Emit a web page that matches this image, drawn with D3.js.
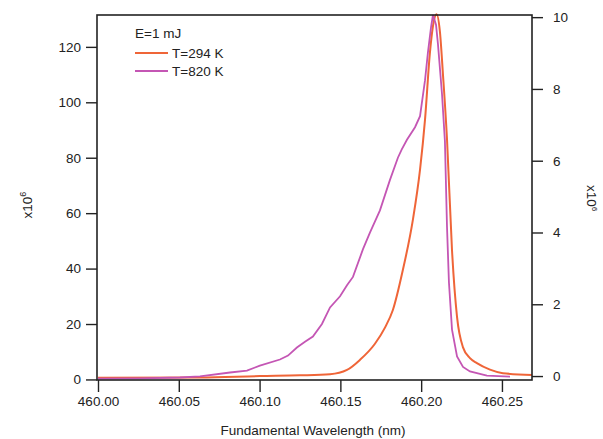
<!DOCTYPE html>
<html>
<head>
<meta charset="utf-8">
<script src="https://cdn.jsdelivr.net/npm/d3@7"></script>
<style>
    body { margin: 0; background: #fff; }
    text { font-family: "Liberation Sans", Arial, sans-serif; fill: #222; }
</style>
</head>
<body>
<svg id="chart" width="603" height="439"></svg>
<script>
// - - - - - - - - - -
// data
// - - - - - - - - - -
const hotWl = [460.0000, 460.0260, 460.0507, 460.0631, 460.0817, 460.0922, 460.1002, 460.1126,
    460.1176, 460.1231, 460.1281, 460.1330, 460.1386, 460.1436, 460.1498, 460.1541, 460.1578,
    460.1640, 460.1683, 460.1745, 460.1807, 460.1856, 460.1880, 460.1912, 460.1962, 460.1993,
    460.2024, 460.2042, 460.2061, 460.2073, 460.2092, 460.2104, 460.2129, 460.2147, 460.2160,
    460.2172, 460.2191, 460.2222, 460.2259, 460.2302, 460.2407, 460.2550];
const hotVal = [0.3, 0.4, 0.7, 1.1, 2.5, 3.2, 5.0, 7.2,
    8.6, 11.5, 13.6, 15.5, 20, 26, 30, 34, 37,
    47, 53, 61, 72, 80, 83, 86.5, 91, 95,
    108, 118, 127, 131.5, 128, 121, 103, 86, 55,
    35, 18, 8.3, 4.5, 2.9, 1.4, 1.0];

const coldWl = [460.0000, 460.0631, 460.1002, 460.1250, 460.1436, 460.1541, 460.1621, 460.1714,
    460.1776, 460.1825, 460.1887, 460.1949, 460.1993, 460.2024, 460.2054, 460.2079, 460.2095,
    460.2116, 460.2135, 460.2160, 460.2191, 460.2222, 460.2259, 460.2302, 460.2345, 460.2426,
    460.2506, 460.2686];
const coldVal = [-0.05, -0.04, 0.0, 0.02, 0.05, 0.17, 0.45, 0.9,
    1.35, 1.84, 2.96, 4.36, 5.75, 7.15, 9.0, 9.9, 10.08,
    9.6, 8.4, 6.6, 3.5, 1.65, 0.8, 0.5, 0.36, 0.18,
    0.08, 0.03];

const xTicks = [460.00, 460.05, 460.10, 460.15, 460.20, 460.25];
const leftTicks = [0, 20, 40, 60, 80, 100, 120];
const rightTicks = [0, 2, 4, 6, 8, 10];

const legendLabels = ['T=294 K', 'T=820 K'];
const colors = ['#ef6538', '#c456b4'];

// - - - - - - - - - -
const svg = d3.select('#chart');
const L = 97, R = 532, T = 15, B = 380;

const x = d3.scaleLinear().domain([460, 460.2686]).range([L + 1, R]);
const yLeft = d3.scaleLinear().domain([-0.2, 131.5]).range([B, T]);
const yRight = d3.scaleLinear().domain([-0.11, 10.06]).range([B, T]);

const fmt2 = d3.format('.2f');

// axes
const gx = svg.append('g').attr('transform', `translate(0,${B})`)
    .call(d3.axisBottom(x).tickValues(xTicks).tickFormat(fmt2).tickSize(12).tickPadding(4));
const gl = svg.append('g').attr('transform', `translate(${L},0)`)
    .call(d3.axisLeft(yLeft).tickValues(leftTicks).tickSize(11).tickPadding(5));
const gr = svg.append('g').attr('transform', `translate(${R},0)`)
    .call(d3.axisRight(yRight).tickValues(rightTicks).tickSize(11).tickPadding(10));

[gx, gl, gr].forEach(g => {
    g.select('.domain').remove();
    g.selectAll('line').attr('stroke', '#222').attr('stroke-width', 1.4);
    g.selectAll('text').attr('font-size', 13.5).attr('fill', '#222');
});

// lines
const lineHot = d3.line()
    .x((d, i) => x(hotWl[i]))
    .y(d => yLeft(d));
const lineCold = d3.line()
    .x((d, i) => x(coldWl[i]))
    .y(d => yRight(d))
    .curve(d3.curveMonotoneX);

svg.append('path').datum(coldVal)
    .attr('d', lineCold)
    .attr('fill', 'none').attr('stroke', colors[0]).attr('stroke-width', 2);
svg.append('path').datum(hotVal)
    .attr('d', lineHot)
    .attr('fill', 'none').attr('stroke', colors[1]).attr('stroke-width', 1.8);

// frame
svg.append('rect')
    .attr('x', L).attr('y', T).attr('width', R - L).attr('height', B - T)
    .attr('fill', 'none').attr('stroke', '#222').attr('stroke-width', 1.6);

// legend
svg.append('text').attr('x', 135).attr('y', 38).attr('font-size', 13.5).text('E=1 mJ');
legendLabels.forEach((lab, i) => {
    const yy = 53 + i * 18;
    svg.append('line').attr('x1', 135).attr('x2', 168).attr('y1', yy).attr('y2', yy)
        .attr('stroke', colors[i]).attr('stroke-width', 2);
    svg.append('text').attr('x', 172).attr('y', yy + 5).attr('font-size', 13.5).text(lab);
});

// axis titles
svg.append('text').attr('x', 313).attr('y', 435).attr('text-anchor', 'middle')
    .attr('font-size', 13.5).text('Fundamental Wavelength (nm)');

const tl = svg.append('text').attr('transform', 'translate(32,205) rotate(-90)')
    .attr('text-anchor', 'middle').attr('font-size', 13.5);
tl.append('tspan').text('x10');
tl.append('tspan').attr('dy', -6).attr('font-size', 9).text('6');

const tr = svg.append('text').attr('transform', 'translate(587,198) rotate(90)')
    .attr('text-anchor', 'middle').attr('font-size', 13.5);
tr.append('tspan').text('x10');
tr.append('tspan').attr('dy', -5).attr('font-size', 8).text('6');
</script>
</body>
</html>
